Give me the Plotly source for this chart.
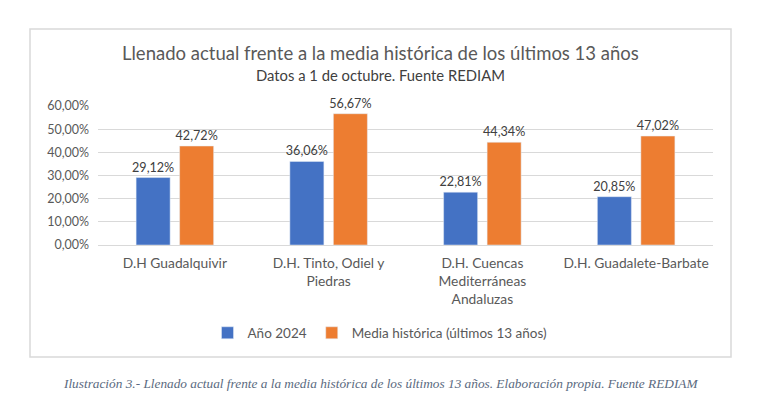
import plotly.graph_objects as go

categories = ["D.H Guadalquivir", "D.H. Tinto, Odiel y<br>Piedras",
              "D.H. Cuencas<br>Mediterráneas<br>Andaluzas", "D.H. Guadalete-Barbate"]
anio_2024 = [0.2912, 0.3606, 0.2281, 0.2085]
media_historica = [0.4272, 0.5667, 0.4434, 0.4702]
y_ticks = [0, 0.1, 0.2, 0.3, 0.4, 0.5, 0.6]

OFF = 8  # browser body margin
W, H = 783 - OFF, 394 - OFF
L, R, T, B = 90, 70, 98, 149
pw, ph = W - L - R, H - T - B

def px(x):  # screen x -> paper
    return (x - OFF - L) / pw

def py(y):  # screen y -> paper
    return (H - B - (y - OFF)) / ph

font = "Lato, 'Open Sans', sans-serif"

fig = go.Figure()
fig.add_trace(go.Bar(name="Año 2024", x=categories, y=anio_2024,
                     marker_color="#4472C4", texttemplate="%{y:.2%}",
                     textposition="outside", cliponaxis=False, constraintext="none",
                     textfont=dict(size=12.6, color="#404040")))
fig.add_trace(go.Bar(name="Media histórica (últimos 13 años)", x=categories, y=media_historica,
                     marker_color="#ED7D31", texttemplate="%{y:.2%}",
                     textposition="outside", cliponaxis=False, constraintext="none",
                     textfont=dict(size=12.6, color="#404040")))

fig.update_layout(
    width=W, height=H,
    margin=dict(l=L, r=R, t=T, b=B, autoexpand=False),
    paper_bgcolor="white", plot_bgcolor="white",
    font=dict(family=font, color="#595959", size=12),
    separators=",.",
    barmode="group", bargap=0.434, bargroupgap=0.218,
    showlegend=True,
    legend=dict(orientation="h", x=px(380), y=py(333), xanchor="center", yanchor="middle",
                font=dict(size=13.5, color="#595959"), itemwidth=30, tracegroupgap=0,
                bgcolor="rgba(0,0,0,0)"),
)
fig.update_yaxes(range=[0, 0.6], tickvals=y_ticks, tickformat=".2%",
                 showgrid=True, gridcolor="#D9D9D9", gridwidth=1,
                 zeroline=True, zerolinecolor="#D9D9D9", zerolinewidth=1,
                 showline=False, ticks="", ticklen=0, ticklabelstandoff=8,
                 tickfont=dict(size=12.5, color="#595959"), fixedrange=True)
fig.update_xaxes(showline=False, ticks="", tickfont=dict(size=13.8, color="#595959"),
                 ticklabelstandoff=8, fixedrange=True)

annotations = [
    dict(text="Llenado actual frente a la media histórica de los últimos 13 años",
         x=px(380), y=py(53), xref="paper", yref="paper", showarrow=False,
         xanchor="center", yanchor="middle", font=dict(size=18.5, color="#595959")),
    dict(text="Datos a 1 de octubre. Fuente REDIAM",
         x=px(380), y=py(75), xref="paper", yref="paper", showarrow=False,
         xanchor="center", yanchor="middle", font=dict(size=14.8, color="#404040")),
    dict(text="<i>Ilustración 3.- Llenado actual frente a la media histórica de los últimos 13 años. Elaboración propia. Fuente REDIAM</i>",
         x=px(380), y=py(383), xref="paper", yref="paper", showarrow=False,
         xanchor="center", yanchor="middle",
         font=dict(size=13.3, color="#5A6A80", family="'Liberation Serif', 'DejaVu Serif', serif")),
]
fig.update_layout(annotations=annotations)

fig.add_shape(type="rect", xref="paper", yref="paper",
              x0=px(30), x1=px(731), y0=py(357), y1=py(29),
              line=dict(color="#D9D9D9", width=1.5), fillcolor="rgba(0,0,0,0)", layer="below")

fig.write_html("out.html")
